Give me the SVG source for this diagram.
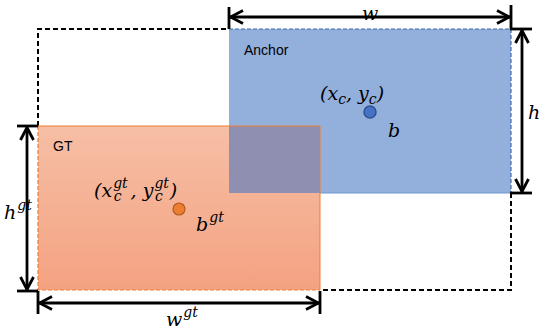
<svg xmlns="http://www.w3.org/2000/svg" width="550" height="331" viewBox="0 0 550 331">
<defs>
<linearGradient id="gtg" x1="0" y1="0" x2="0" y2="1">
<stop offset="0" stop-color="#f6bfa6"/>
<stop offset="1" stop-color="#f4a281"/>
</linearGradient>
<marker id="ah" viewBox="0 0 16 16" refX="15" refY="8" markerWidth="16" markerHeight="16" markerUnits="userSpaceOnUse" orient="auto-start-reverse">
<path d="M2,1.5 L14.5,8 L2,14.5" fill="none" stroke="#000" stroke-width="2.8"/>
</marker>
<style>
.dash{fill:none;stroke:#000;stroke-width:2;stroke-dasharray:5 3}
.dim{stroke:#000;stroke-width:2.8;fill:none}
.tick{stroke:#000;stroke-width:2.8}
.lbl{font-family:"Liberation Sans",Arial,sans-serif;font-size:14px;fill:#000}
.m{font-family:"DejaVu Serif","Liberation Serif",serif;font-style:italic;font-size:19px;fill:#000}
.sub{font-size:14px}
</style>
</defs>
<g id="outline">
<path class="dash" d="M38,126 V29 H229"/>
<path class="dash" d="M511,193 V290 H320"/>
</g>
<g id="anchor">
<rect x="229" y="29" width="282" height="164" fill="#93afdc"/>
<path d="M229,29 H511 V193" fill="none" stroke="#3f6aa8" stroke-width="1.2" stroke-dasharray="4 2"/>
<path d="M229,193 H511" stroke="#6f9ad6" stroke-width="1"/>
<text class="lbl" x="244" y="55">Anchor</text>
</g>
<g id="gt">
<rect x="38" y="126" width="282" height="164" fill="url(#gtg)"/>
<rect x="229" y="126" width="91" height="67" fill="#8f8fb1"/>
<path d="M38,126 H320 V290" fill="none" stroke="#ed7d31" stroke-width="1"/>
<path d="M38,126 V290 H320" fill="none" stroke="#ed7d31" stroke-width="1.2" stroke-dasharray="4 2"/>
<text class="lbl" x="53" y="151">GT</text>
</g>
<g id="anchor-center">
<circle cx="370" cy="112" r="6" fill="#4472c4" stroke="#2f528f" stroke-width="1.5"/>
<text class="m" x="320" y="100">(<tspan>x</tspan><tspan class="sub" dy="4">c</tspan><tspan dy="-4">, y</tspan><tspan class="sub" dy="4">c</tspan><tspan dy="-4">)</tspan></text>
<text class="m" x="388" y="137">b</text>
</g>
<g id="gt-center">
<circle cx="179" cy="209" r="6" fill="#ed7d31" stroke="#ae5a21" stroke-width="1.2"/>
<text class="m" x="94" y="197">(<tspan>x</tspan><tspan class="sub" dx="1" dy="-9">gt</tspan><tspan class="sub" dx="-14" dy="13">c</tspan><tspan dx="9" dy="-4">, y</tspan><tspan class="sub" dx="1" dy="-9">gt</tspan><tspan class="sub" dx="-14" dy="13">c</tspan><tspan dx="7" dy="-4">)</tspan></text>
<text class="m" x="196" y="231">b<tspan class="sub" dx="1" dy="-9">gt</tspan></text>
</g>
<g id="connectors">
<line class="tick" x1="229" y1="7" x2="229" y2="29"/>
<line class="tick" x1="511" y1="5" x2="511" y2="29"/>
<line class="dim" x1="230" y1="17" x2="510" y2="17" marker-start="url(#ah)" marker-end="url(#ah)"/>
<line class="tick" x1="510" y1="29" x2="532" y2="29"/>
<line class="tick" x1="510" y1="193" x2="532" y2="193"/>
<line class="dim" x1="522" y1="30" x2="522" y2="192" marker-start="url(#ah)" marker-end="url(#ah)"/>
<line class="tick" x1="17" y1="126" x2="38" y2="126"/>
<line class="tick" x1="17" y1="291" x2="38" y2="291"/>
<line class="dim" x1="27" y1="127" x2="27" y2="290" marker-start="url(#ah)" marker-end="url(#ah)"/>
<line class="tick" x1="38" y1="291" x2="38" y2="314"/>
<line class="tick" x1="320" y1="291" x2="320" y2="314"/>
<line class="dim" x1="39" y1="303" x2="319" y2="303" marker-start="url(#ah)" marker-end="url(#ah)"/>
</g>
<g id="dim-labels">
<text class="m" x="362" y="20">w</text>
<text class="m" x="528" y="119">h</text>
<text class="m" x="4" y="219">h<tspan class="sub" dx="1" dy="-9">gt</tspan></text>
<text class="m" x="166" y="326">w<tspan class="sub" dx="1" dy="-9">gt</tspan></text>
</g>
</svg>
